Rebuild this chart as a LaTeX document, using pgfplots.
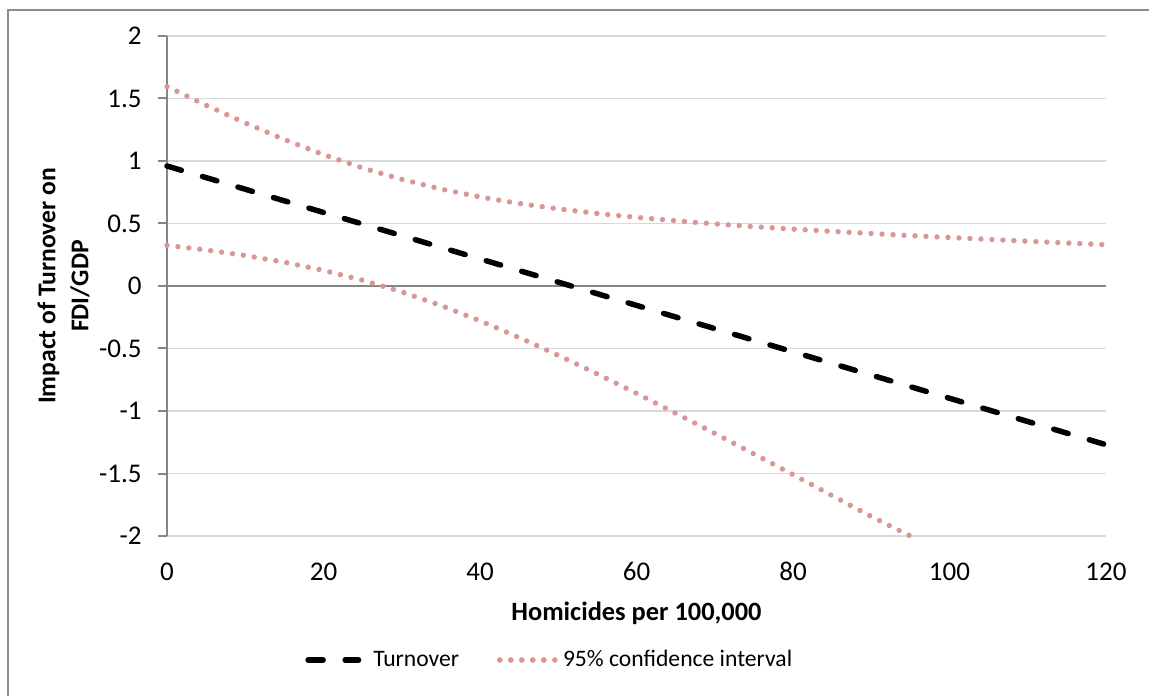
\documentclass[border=0pt]{standalone}
\usepackage{fontspec}
\setmainfont{Carlito}
\usepackage{pgfplots}
\usepackage{pgfplotstable}
\pgfplotsset{compat=1.18}

\definecolor{gridgray}{HTML}{D9D9D9}
\definecolor{axisgray}{HTML}{868686}
\definecolor{framegray}{HTML}{8C8C8C}
\definecolor{cipink}{HTML}{D99694}

\pgfplotsset{
  dashleg/.style={legend image code/.code={\draw[##1] (1.4pt,0pt) -- (26.6pt,0pt);}},
  dotleg/.style={legend image code/.code={\draw[##1, overlay] (1.25pt,0pt) -- (28.75pt,0pt);
    \path (1.25pt,0pt) -- (25.5pt,0pt);}},
}

\pgfplotstableread{
x y
0 0.96
120 -1.27
}\turnover

\pgfplotstableread{
x y
0 1.595
5 1.446
10 1.304
15 1.172
20 1.051
25 0.944
30 0.853
35 0.776
40 0.712
45 0.660
50 0.617
55 0.580
60 0.549
65 0.522
70 0.497
75 0.475
80 0.455
85 0.437
90 0.420
95 0.403
100 0.388
105 0.373
110 0.358
115 0.344
120 0.330
}\ciupper

\pgfplotstableread{
x y
0 0.325
5 0.288
10 0.244
15 0.190
20 0.125
25 0.046
30 -0.047
35 -0.156
40 -0.278
45 -0.412
50 -0.555
55 -0.704
60 -0.859
65 -1.018
70 -1.179
75 -1.343
80 -1.509
85 -1.677
90 -1.844
95 -2.0
}\cilower

\begin{document}
\begin{tikzpicture}
\useasboundingbox (-83.5pt,-79.5pt) rectangle (491pt,268pt);
\draw[framegray, line width=1pt] (-79.5pt,-81pt) -- (-79.5pt,263pt) -- (493pt,263pt);
\begin{axis}[
  at={(0pt,0pt)}, anchor=south west,
  scale only axis, width=469.5pt, height=250pt,
  xmin=0, xmax=120, ymin=-2, ymax=2,
  clip=false,
  axis lines=left,
  x axis line style={draw=none},
  y axis line style={axisgray, line width=1pt, -},
  xtick={0,20,...,120}, xticklabels={0,20,40,60,80,100,120},
  ytick={-2,-1.5,...,2}, yticklabels={-2,-1.5,-1,-0.5,0,0.5,1,1.5,2},
  xtick style={draw=none},
  ytick style={axisgray, line width=1pt},
  tick align=outside, major tick length=4.5pt,
  ymajorgrids, grid style={gridgray, line width=0.75pt},
  tick label style={font=\fontsize{13.5}{16}\selectfont, inner sep=0pt},
  yticklabel style={anchor=east, xshift=-8pt},
  xticklabel style={anchor=base, yshift=-17.5pt},
  legend columns=2,
  legend style={draw=none, fill=none, at={(rel axis cs:0,0)}, anchor=west,
    xshift=69pt, yshift=-62pt, inner sep=0pt,
    font=\fontsize{11.8}{14}\selectfont,
    nodes={inner sep=0pt},
    /tikz/every odd column/.append style={column sep=6pt},
    /tikz/every even column/.append style={column sep=19pt}},
]
\draw[axisgray, line width=1pt] (axis cs:0,0) -- (axis cs:120,0);
\addplot[black, line width=2.75pt, line cap=round, dash pattern=on 7.5pt off 11pt, dashleg]
  table[x=x, y=y] {\turnover};
\addlegendentry{Turnover}
\addplot[cipink, line width=2.7pt, line cap=round, dash pattern=on 0pt off 5.5pt, dotleg]
  table[x=x, y=y] {\ciupper};
\addlegendentry{95\% confidence interval}
\addplot[cipink, line width=2.7pt, line cap=round, dash pattern=on 0pt off 5.5pt, forget plot]
  table[x=x, y=y] {\cilower};
\end{axis}
\node[font=\fontsize{13.2}{15}\selectfont\bfseries, anchor=base] at (234.75pt,-42pt) {Homicides per 100,000};
\node[font=\fontsize{12.8}{16.5}\selectfont\bfseries, rotate=90, align=center] at (-51.75pt,125pt) {Impact of Turnover on\\FDI/GDP};
\end{tikzpicture}
\end{document}
